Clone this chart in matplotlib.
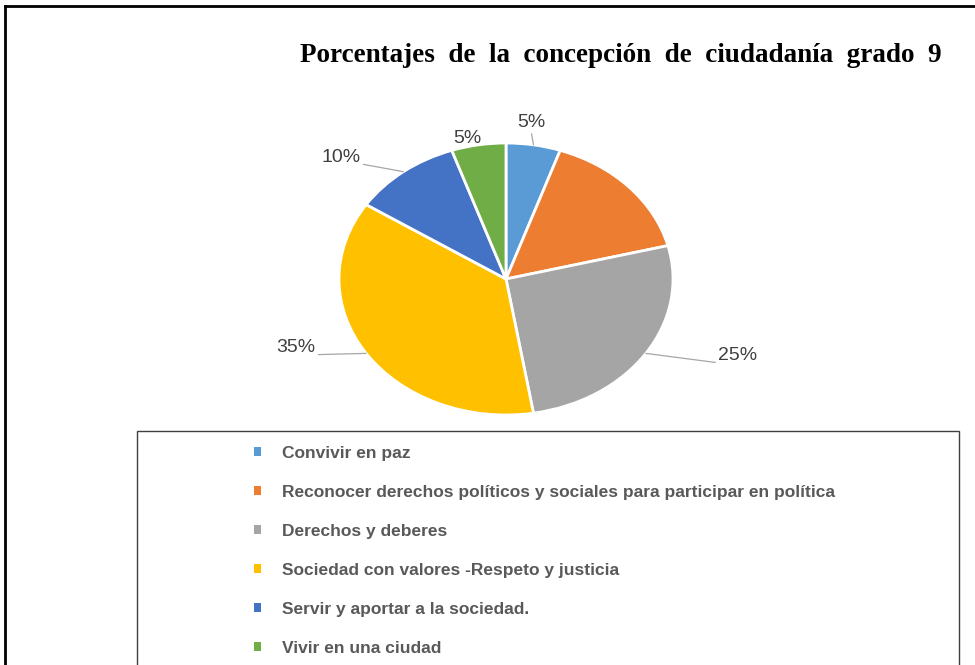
import matplotlib

matplotlib.use("Agg")
import matplotlib.pyplot as plt
import numpy as np
from matplotlib.lines import Line2D
from matplotlib.patches import Patch, Rectangle

# answers per category (grade 9)
CATEGORIES = [
    "Convivir en paz",
    "Reconocer derechos políticos y sociales para participar en política",
    "Derechos y deberes",
    "Sociedad con valores -Respeto y justicia",
    "Servir y aportar a la sociedad.",
    "Vivir en una ciudad",
]
COUNTS = [1, 3, 5, 7, 2, 1]
# labels as printed on the chart (the orange slice has none)
PCT_LABELS = ["5%", "", "25%", "35%", "10%", "5%"]
COLORS = ["#5B9BD5", "#ED7D31", "#A5A5A5", "#FFC000", "#4472C4", "#70AD47"]
TITLE = "Porcentajes de la concepción de ciudadanía grado 9"

W, H = 975, 665


def fx(px):
    return px / W


def fy(py):
    return 1 - py / H


def main():
    fig = plt.figure(figsize=(W / 100, H / 100), dpi=100)

    # pie is stretched horizontally in the original, so aspect is auto
    ax = fig.add_axes([fx(339), fy(415), fx(673) - fx(339), fy(143) - fy(415)])
    wedges, _ = ax.pie(COUNTS, colors=COLORS, startangle=90, counterclock=False,
                       wedgeprops=dict(edgecolor="white", linewidth=2))
    ax.set_aspect("auto")
    ax.set_xlim(-1, 1); ax.set_ylim(-1, 1)

    # text placement (data coords), alignment, and where the leader leaves the text
    label_place = [
        ((0.15, 1.15), "center", "center", (0.5, 0)),
        None,
        ((1.27, -0.56), "left", "center", (0, 0.05)),
        ((-1.14, -0.50), "right", "center", (1, 0.05)),
        ((-0.87, 0.89), "right", "center", (1, 0.15)),
        ((-0.23, 1.03), "center", "center", None),
    ]
    for w, lab, place in zip(wedges, PCT_LABELS, label_place):
        if not lab or place is None:
            continue
        (tx, ty), ha, va, rel = place
        th = np.deg2rad((w.theta1 + w.theta2) / 2)
        edge = (np.cos(th), np.sin(th))
        arrow = None
        if rel is not None:
            arrow = dict(arrowstyle="-", color="#A6A6A6", lw=0.9, relpos=rel,
                         shrinkA=0, shrinkB=0)
        ax.annotate(lab, xy=edge, xytext=(tx, ty), ha=ha, va=va, fontsize=14,
                    color="#404040", family="Liberation Sans", arrowprops=arrow,
                    annotation_clip=False)

    # the original title is set with wide word gaps
    fig.text(fx(621), fy(55), TITLE.replace(" ", "  "), ha="center", va="center",
             family="Liberation Serif", weight="bold", fontsize=19.5)

    # legend box running off the bottom edge
    fig.patches.append(Rectangle((fx(137), -0.05), fx(959) - fx(137), fy(431) + 0.05,
                                 transform=fig.transFigure, fill=False,
                                 edgecolor="#404040", lw=1))
    handles = [Patch(facecolor=c, edgecolor="none") for c in COLORS]
    fig.legend(handles, CATEGORIES, loc="upper left",
               bbox_to_anchor=(fx(254), fy(446)), bbox_transform=fig.transFigure,
               frameon=False, borderpad=0, borderaxespad=0,
               handlelength=0.42, handleheight=0.42, handletextpad=1.18,
               labelspacing=1.38, labelcolor="#595959",
               prop=dict(family="Liberation Sans", weight="bold", size=12.5))

    # outer page border (left and top)
    fig.add_artist(Line2D([fx(5), fx(5)], [0, fy(6)], color="black", lw=2,
                          transform=fig.transFigure))
    fig.add_artist(Line2D([fx(5), 1], [fy(6), fy(6)], color="black", lw=2,
                          transform=fig.transFigure))

    fig.savefig("out.png", dpi=100)
    plt.close(fig)


if __name__ == "__main__":
    main()
